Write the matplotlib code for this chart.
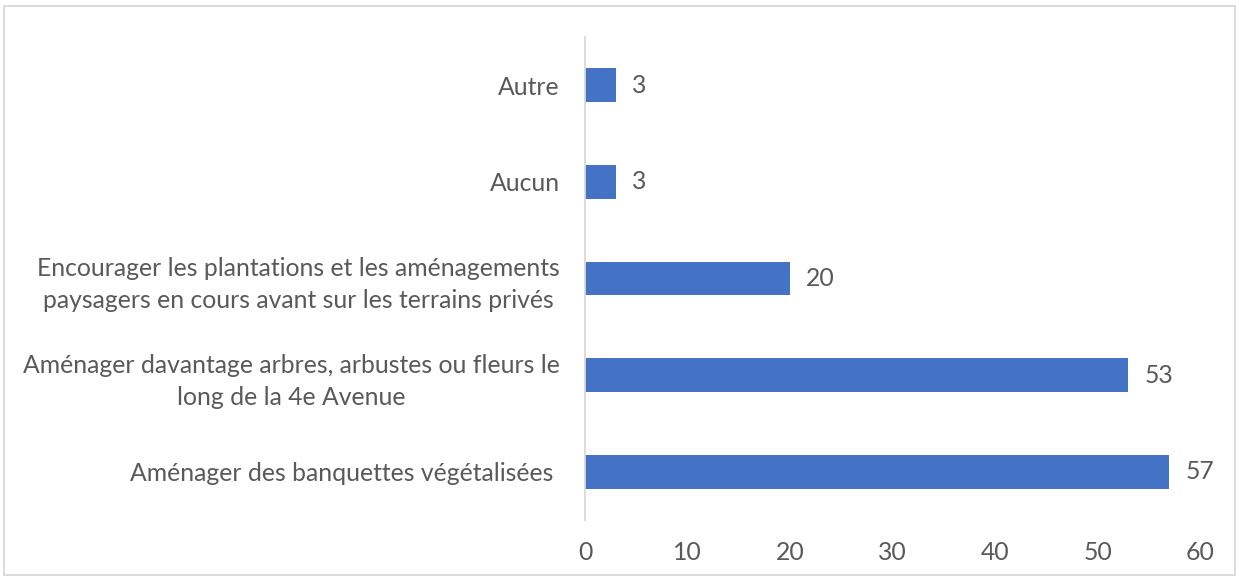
import matplotlib
matplotlib.use("Agg")
import matplotlib.pyplot as plt
from matplotlib.patches import Rectangle

# Data (bottom to top)
categories = [
    "Aménager des banquettes végétalisées ",
    "Aménager davantage arbres, arbustes ou fleurs le\nlong de la 4e Avenue",
    "Encourager les plantations et les aménagements\npaysagers en cours avant sur les terrains privés",
    "Aucun",
    "Autre",
]
values = [57, 53, 20, 3, 3]
xticks = [0, 10, 20, 30, 40, 50, 60]

bar_color = "#4472C4"
text_color = "#595959"
line_color = "#D9D9D9"
fs = 17.8

plt.rcParams['font.family'] = ['Lato', 'DejaVu Sans']

fig = plt.figure(figsize=(12.39, 5.77), dpi=100)
ax = fig.add_axes([585 / 1239, 1 - 520 / 577, 615 / 1239, 483 / 577])

pos = list(range(len(categories)))
bars = ax.barh(pos, values, height=0.35, color=bar_color)

for b, v in zip(bars, values):
    ax.annotate(str(v), (b.get_width(), b.get_y() + b.get_height() / 2),
                xytext=(16, 0), textcoords="offset pixels",
                va="center", ha="left", fontsize=fs, color=text_color)

ax.set_xlim(0, 60)
ax.set_ylim(-0.5, len(categories) - 0.5)
ax.set_xticks(xticks)
ax.set_yticks(pos)
ax.set_yticklabels(categories, multialignment="center", linespacing=1.45)
ax.tick_params(axis="both", length=0, labelsize=fs, labelcolor=text_color)
ax.tick_params(axis="x", pad=15)
ax.tick_params(axis="y", pad=18)

for s in ["top", "right", "bottom"]:
    ax.spines[s].set_visible(False)
ax.spines["left"].set_color(line_color)
ax.spines["left"].set_linewidth(1.3)

fig.patches.append(Rectangle((4 / 1239, 2 / 577), 1231 / 1239, 569 / 577,
                             transform=fig.transFigure, fill=False,
                             edgecolor=line_color, linewidth=1.3))

fig.savefig("out.png", dpi=100)
